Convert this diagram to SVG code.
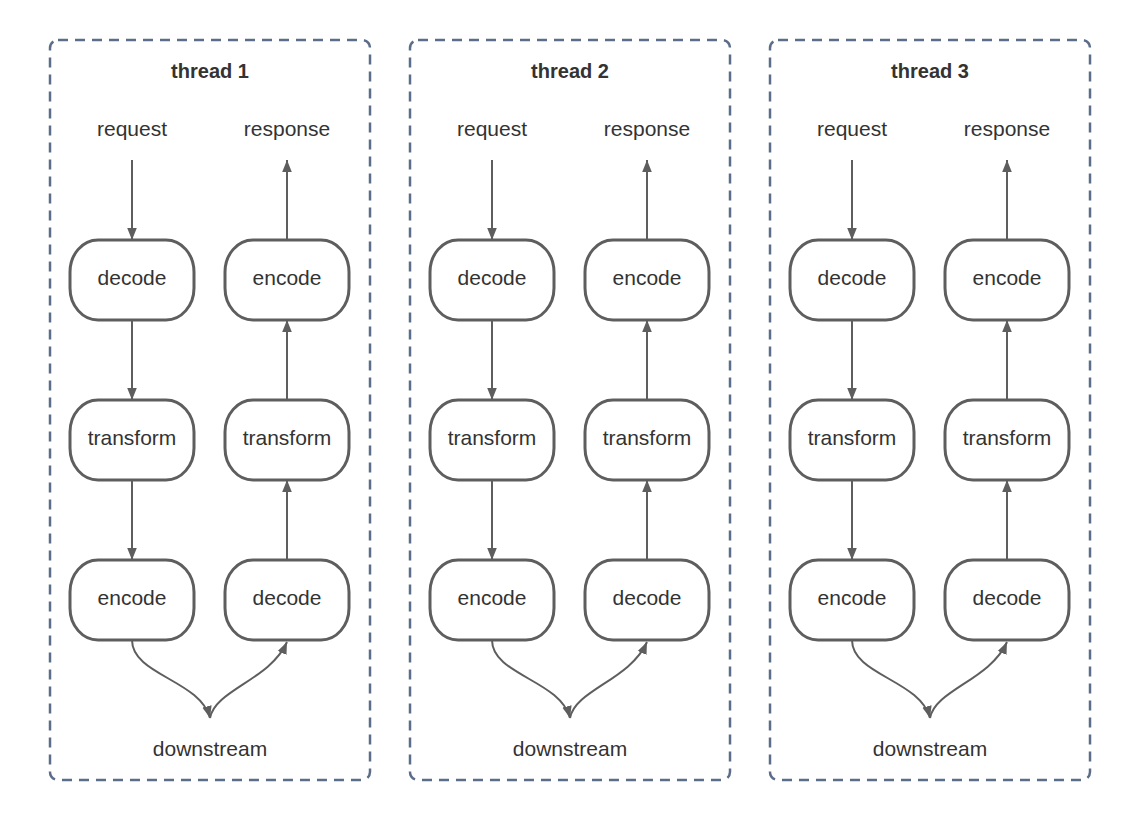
<svg xmlns="http://www.w3.org/2000/svg" width="1140" height="820" viewBox="0 0 1140 820">
<style>
.c{fill:none;stroke:#5b6d88;stroke-width:2.5;stroke-dasharray:10 7}
.n{fill:#fff;stroke:#5e5e5e;stroke-width:3}
.t{font-family:"Liberation Sans",Arial,sans-serif;font-size:21px;fill:#333;text-anchor:middle;dominant-baseline:central}
.h{font-weight:bold;font-size:20px}
.e{fill:none;stroke:#5e5e5e;stroke-width:2;marker-end:url(#a)}
</style>
<defs>
<marker id="a" viewBox="0 0 10 10" refX="10" refY="5" markerWidth="12" markerHeight="12" orient="auto" markerUnits="userSpaceOnUse"><path d="M0,1L10,5L0,9z" fill="#5e5e5e"/></marker>
</defs>
<g id="containers">
<rect class="c" x="50" y="40" width="320" height="740" rx="8"/>
<rect class="c" x="410" y="40" width="320" height="740" rx="8"/>
<rect class="c" x="770" y="40" width="320" height="740" rx="8"/>
<text class="t h" x="210" y="71">thread 1</text>
<text class="t h" x="570" y="71">thread 2</text>
<text class="t h" x="930" y="71">thread 3</text>
</g>
<g id="labels">
<text class="t" x="132" y="128">request</text><text class="t" x="287" y="128">response</text><text class="t" x="210" y="748">downstream</text>
<text class="t" x="492" y="128">request</text><text class="t" x="647" y="128">response</text><text class="t" x="570" y="748">downstream</text>
<text class="t" x="852" y="128">request</text><text class="t" x="1007" y="128">response</text><text class="t" x="930" y="748">downstream</text>
</g>
<g id="connectors">
<path class="e" d="M132,160V240"/><path class="e" d="M132,320V400"/><path class="e" d="M132,480V560"/>
<path class="e" d="M287,240V160"/><path class="e" d="M287,400V320"/><path class="e" d="M287,560V480"/>
<path class="e" d="M132,640C132,675 200,680 210,718"/><path class="e" d="M210,718C215,690 270,680 287,642"/>
<path class="e" d="M492,160V240"/><path class="e" d="M492,320V400"/><path class="e" d="M492,480V560"/>
<path class="e" d="M647,240V160"/><path class="e" d="M647,400V320"/><path class="e" d="M647,560V480"/>
<path class="e" d="M492,640C492,675 560,680 570,718"/><path class="e" d="M570,718C575,690 630,680 647,642"/>
<path class="e" d="M852,160V240"/><path class="e" d="M852,320V400"/><path class="e" d="M852,480V560"/>
<path class="e" d="M1007,240V160"/><path class="e" d="M1007,400V320"/><path class="e" d="M1007,560V480"/>
<path class="e" d="M852,640C852,675 920,680 930,718"/><path class="e" d="M930,718C935,690 990,680 1007,642"/>
</g>
<g id="t1-decode"><rect class="n" x="70" y="240" width="124" height="80" rx="28" ry="32"/><text class="t" x="132" y="277">decode</text></g>
<g id="t1-encode-out"><rect class="n" x="225" y="240" width="124" height="80" rx="28" ry="32"/><text class="t" x="287" y="277">encode</text></g>
<g id="t1-transform-in"><rect class="n" x="70" y="400" width="124" height="80" rx="28" ry="32"/><text class="t" x="132" y="437">transform</text></g>
<g id="t1-transform-out"><rect class="n" x="225" y="400" width="124" height="80" rx="28" ry="32"/><text class="t" x="287" y="437">transform</text></g>
<g id="t1-encode"><rect class="n" x="70" y="560" width="124" height="80" rx="28" ry="32"/><text class="t" x="132" y="597">encode</text></g>
<g id="t1-decode-back"><rect class="n" x="225" y="560" width="124" height="80" rx="28" ry="32"/><text class="t" x="287" y="597">decode</text></g>
<g id="t2-decode"><rect class="n" x="430" y="240" width="124" height="80" rx="28" ry="32"/><text class="t" x="492" y="277">decode</text></g>
<g id="t2-encode-out"><rect class="n" x="585" y="240" width="124" height="80" rx="28" ry="32"/><text class="t" x="647" y="277">encode</text></g>
<g id="t2-transform-in"><rect class="n" x="430" y="400" width="124" height="80" rx="28" ry="32"/><text class="t" x="492" y="437">transform</text></g>
<g id="t2-transform-out"><rect class="n" x="585" y="400" width="124" height="80" rx="28" ry="32"/><text class="t" x="647" y="437">transform</text></g>
<g id="t2-encode"><rect class="n" x="430" y="560" width="124" height="80" rx="28" ry="32"/><text class="t" x="492" y="597">encode</text></g>
<g id="t2-decode-back"><rect class="n" x="585" y="560" width="124" height="80" rx="28" ry="32"/><text class="t" x="647" y="597">decode</text></g>
<g id="t3-decode"><rect class="n" x="790" y="240" width="124" height="80" rx="28" ry="32"/><text class="t" x="852" y="277">decode</text></g>
<g id="t3-encode-out"><rect class="n" x="945" y="240" width="124" height="80" rx="28" ry="32"/><text class="t" x="1007" y="277">encode</text></g>
<g id="t3-transform-in"><rect class="n" x="790" y="400" width="124" height="80" rx="28" ry="32"/><text class="t" x="852" y="437">transform</text></g>
<g id="t3-transform-out"><rect class="n" x="945" y="400" width="124" height="80" rx="28" ry="32"/><text class="t" x="1007" y="437">transform</text></g>
<g id="t3-encode"><rect class="n" x="790" y="560" width="124" height="80" rx="28" ry="32"/><text class="t" x="852" y="597">encode</text></g>
<g id="t3-decode-back"><rect class="n" x="945" y="560" width="124" height="80" rx="28" ry="32"/><text class="t" x="1007" y="597">decode</text></g>
</svg>
